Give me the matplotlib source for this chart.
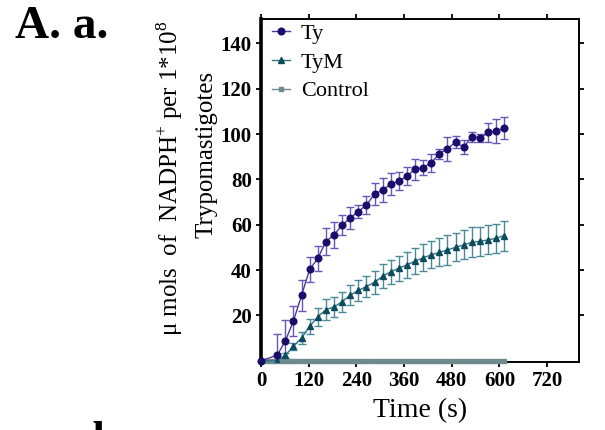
import matplotlib
matplotlib.use("Agg")
import matplotlib.pyplot as plt

plt.rcParams["font.family"] = ["Liberation Serif", "DejaVu Serif"]
plt.rcParams["mathtext.fontset"] = "custom"
plt.rcParams["mathtext.rm"] = "Liberation Serif"

# sampling times (s)
t = [0, 40.8, 61.2, 81.6, 102.0, 122.4, 142.8, 163.2, 183.6, 204.0,
     224.4, 244.8, 265.2, 285.6, 306.0, 326.4, 346.8, 367.2, 387.6, 408.0,
     428.4, 448.8, 469.2, 489.6, 510.0, 530.4, 550.8, 571.2, 591.6, 612.0]

ty = [0, 2.4, 8.7, 17.5, 28.8, 40.3, 45.1, 52.5, 55.6, 59.7,
      63.0, 65.8, 68.7, 73.5, 75.3, 78.0, 79.2, 81.5, 84.5, 85.2,
      87.3, 91.4, 93.6, 96.4, 94.2, 98.9, 98.2, 100.7, 101.3, 102.8]
ty_err = [0, 9.5, 9.4, 6.6, 6.8, 5.5, 5.7, 6.0, 5.7, 4.4,
          4.9, 2.9, 4.0, 4.7, 5.4, 4.9, 3.9, 3.8, 4.6, 3.2,
          4.0, 2.2, 5.3, 2.6, 3.1, 2.2, 1.8, 4.0, 5.2, 4.9]

tym = [0, 0, 2.4, 6.4, 10.0, 15.2, 19.3, 22.5, 23.7, 26.0,
       28.9, 31.0, 32.7, 34.6, 37.3, 39.2, 40.8, 42.3, 43.9, 45.4,
       46.7, 47.8, 48.9, 50.0, 51.1, 52.2, 52.7, 53.3, 54.0, 55.2]
tym_err = [0, 0, 1.0, 1.5, 2.7, 3.3, 3.9, 4.6, 4.4, 4.3,
           4.3, 4.5, 4.8, 5.1, 5.2, 5.3, 5.5, 5.6, 5.7, 5.9,
           5.9, 6.2, 6.6, 6.2, 6.4, 6.6, 6.4, 6.4, 6.4, 6.6]

# control read every 10.2 s, stays at zero
ctrl_t = [10.2, 20.4, 30.6, 40.8, 51.0, 61.2, 71.4, 81.6, 91.8, 102.0,
          112.2, 122.4, 132.6, 142.8, 153.0, 163.2, 173.4, 183.6, 193.8, 204.0,
          214.2, 224.4, 234.6, 244.8, 255.0, 265.2, 275.4, 285.6, 295.8, 306.0,
          316.2, 326.4, 336.6, 346.8, 357.0, 367.2, 377.4, 387.6, 397.8, 408.0,
          418.2, 428.4, 438.6, 448.8, 459.0, 469.2, 479.4, 489.6, 499.8, 510.0,
          520.2, 530.4, 540.6, 550.8, 561.0, 571.2, 581.4, 591.6, 601.8, 612.0]
ctrl = [0] * len(ctrl_t)

xticks = [0, 120, 240, 360, 480, 600, 720]
yticks = [20, 40, 60, 80, 100, 120, 140]

fig = plt.figure(figsize=(6.05, 4.3), dpi=100)
ax = fig.add_axes([0.4314, 0.158, 0.5256, 0.798])

ax.errorbar(t, tym, yerr=tym_err, fmt="none", ecolor="#4a8a98", elinewidth=1.0,
            capsize=3, capthick=1.0, zorder=2)
ax.errorbar(t, ty, yerr=ty_err, fmt="none", ecolor="#6a55b8", elinewidth=1.0,
            capsize=3, capthick=1.0, zorder=2)

ax.plot(ctrl_t, ctrl, "-s", color="#6e8a8c", markersize=3.2, linewidth=1.0,
        label="Control", clip_on=False, zorder=3)
ax.plot(t, tym, "-^", color="#2f7585", markerfacecolor="#0e4b5c",
        markeredgecolor="#0e4b5c", markersize=4.5, linewidth=1.0,
        label="TyM", zorder=4)
ax.plot(t, ty, "-o", color="#4b3a9e", markerfacecolor="#1a0d6c",
        markeredgecolor="#1a0d6c", markersize=4.8, linewidth=1.0,
        label="Ty", clip_on=False, zorder=5)

ax.set_xlim(0, 800)
ax.set_ylim(-0.6, 150.8)
ax.set_xticks(xticks)
ax.set_yticks(yticks)
ax.tick_params(direction="out", length=3.5, width=1.3, labelsize=15,
               top=True, right=True, pad=3)
for lab in ax.get_xticklabels() + ax.get_yticklabels():
    lab.set_fontweight("bold")

for side in ["top", "right", "bottom"]:
    ax.spines[side].set_linewidth(1.4)
ax.spines["left"].set_linewidth(2.6)

ax.set_xlabel("Time (s)", fontsize=20, labelpad=5)

fig.text(0.281, 0.586, "\u03bc mols  of  NADPH$^{+}$ per 1*10$^{8}$",
         rotation=90, ha="center", va="center", fontsize=18)
fig.text(0.342, 0.64, "Trypomastigotes", rotation=90, ha="center",
         va="center", fontsize=18)

handles, labels = ax.get_legend_handles_labels()
order = [2, 1, 0]
ax.legend([handles[i] for i in order], [labels[i] for i in order],
          loc="upper left", bbox_to_anchor=(0.0, 1.02), frameon=False,
          fontsize=16, handlelength=0.8, handletextpad=0.5,
          labelspacing=0.37, borderaxespad=0.1)

fig.text(0.025, 0.912, "A. a.", fontsize=34, fontweight="bold")
fig.text(0.152, -0.05, "b.", fontsize=32, fontweight="bold")

fig.savefig("out.png", dpi=100)
